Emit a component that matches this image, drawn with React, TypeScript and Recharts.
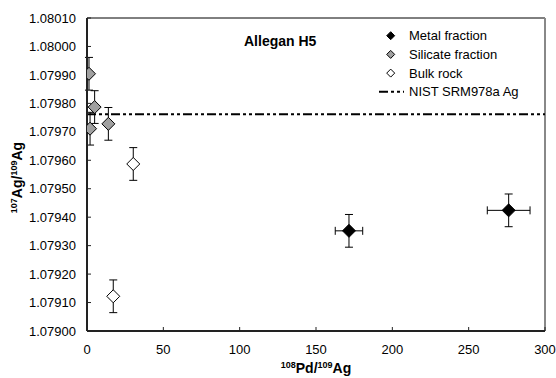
import { ScatterChart, Scatter, XAxis, YAxis, ErrorBar, ReferenceLine } from 'recharts';

const metal = [
  { x: 171.6, y: 1.079352, ex: 9, ey: 0.0000575 },
  { x: 276.2, y: 1.079424, ex: 14, ey: 0.0000575 },
];
const silicate = [
  { x: 1.3, y: 1.079904, ey: 0.0000575 },
  { x: 2.0, y: 1.079711, ey: 0.0000575 },
  { x: 5.0, y: 1.079787, ey: 0.0000575 },
  { x: 14.0, y: 1.079728, ey: 0.0000575 },
];
const bulk = [
  { x: 30.3, y: 1.079587, ey: 0.0000575 },
  { x: 17.2, y: 1.079122, ey: 0.0000575 },
];
const nistValue = 1.079762;

const xTicks = [0, 50, 100, 150, 200, 250, 300];
const yTicks = [1.079, 1.0791, 1.0792, 1.0793, 1.0794, 1.0795, 1.0796, 1.0797, 1.0798, 1.0799, 1.08, 1.0801];

const legendItems = [
  { name: 'Metal fraction', fill: '#000000', kind: 'diamond' },
  { name: 'Silicate fraction', fill: '#a0a0a0', kind: 'diamond' },
  { name: 'Bulk rock', fill: '#ffffff', kind: 'diamond' },
  { name: 'NIST SRM978a Ag', fill: 'none', kind: 'line' },
];

const FONT = '"Liberation Sans", Arial, sans-serif';
const DASH = '9 3 3 3 3 3';

function diamond(fill: string, r: number) {
  return (props: any) => {
    const { cx, cy } = props;
    if (cx == null || cy == null) return <g />;
    return (
      <polygon
        points={`${cx},${cy - r} ${cx + r},${cy} ${cx},${cy + r} ${cx - r},${cy}`}
        fill={fill}
        stroke="#000"
        strokeWidth={1}
      />
    );
  };
}

function YLabel(props: any) {
  const vb = props.viewBox || { x: 0, y: 18, width: 87, height: 313 };
  const x = vb.x + 22;
  const y = vb.y + vb.height / 2 + 3;
  return (
    <text x={x} y={y} transform={`rotate(-90, ${x}, ${y})`} textAnchor="middle" fontFamily={FONT} fontWeight="bold" fontSize={14} fill="#000">
      <tspan fontSize={9} dy={-5}>107</tspan>
      <tspan dy={5}>Ag/</tspan>
      <tspan fontSize={9} dy={-5}>109</tspan>
      <tspan dy={5}>Ag</tspan>
    </text>
  );
}

function XLabel(props: any) {
  const vb = props.viewBox || { x: 87, y: 331, width: 458, height: 47 };
  const x = vb.x + vb.width / 2;
  const y = vb.y + 42;
  return (
    <text x={x} y={y} textAnchor="middle" fontFamily={FONT} fontWeight="bold" fontSize={14} fill="#000">
      <tspan fontSize={9} dy={-5}>108</tspan>
      <tspan dy={5}>Pd/</tspan>
      <tspan fontSize={9} dy={-5}>109</tspan>
      <tspan dy={5}>Ag</tspan>
    </text>
  );
}

export default function App() {
  return (
    <div style={{ position: 'absolute', left: 0, top: 0, width: 556, height: 378, background: '#fff' }}>
      <ScatterChart width={556} height={378} margin={{ top: 18, right: 11, bottom: 0, left: 0 }}>
        <XAxis
          type="number"
          dataKey="x"
          domain={[0, 300]}
          ticks={xTicks}
          allowDataOverflow
          height={47}
          tickSize={-4}
          tickMargin={18}
          tick={{ fontFamily: FONT, fontSize: 13, fill: '#000' }}
          axisLine={{ stroke: '#222', strokeWidth: 2 }}
          tickLine={{ stroke: '#222' }}
          label={<XLabel />}
        />
        <YAxis
          type="number"
          dataKey="y"
          domain={[1.079, 1.0801]}
          ticks={yTicks}
          allowDataOverflow
          width={87}
          tickSize={-4}
          tickMargin={15}
          tickFormatter={(v: number) => v.toFixed(5)}
          tick={{ fontFamily: FONT, fontSize: 13, fill: '#000' }}
          axisLine={{ stroke: '#222', strokeWidth: 2 }}
          tickLine={{ stroke: '#222' }}
          label={<YLabel />}
        />
        <ReferenceLine y={1.0801} stroke="#000" strokeWidth={1} />
        <ReferenceLine x={300} stroke="#888" strokeWidth={2} />
        <ReferenceLine y={nistValue} stroke="#000" strokeWidth={2} strokeDasharray={DASH} />
        <Scatter data={silicate} shape={diamond('#a0a0a0', 6.5)} isAnimationActive={false}>
          <ErrorBar dataKey="ey" direction="y" width={4} stroke="#000" strokeWidth={1} />
        </Scatter>
        <Scatter data={bulk} shape={diamond('#ffffff', 6.5)} isAnimationActive={false}>
          <ErrorBar dataKey="ey" direction="y" width={4} stroke="#000" strokeWidth={1} />
        </Scatter>
        <Scatter data={metal} shape={diamond('#000000', 6.5)} isAnimationActive={false}>
          <ErrorBar dataKey="ey" direction="y" width={4} stroke="#000" strokeWidth={1} />
          <ErrorBar dataKey="ex" direction="x" width={4} stroke="#000" strokeWidth={1} />
        </Scatter>
      </ScatterChart>
      <svg width={556} height={378} style={{ position: 'absolute', left: 0, top: 0, pointerEvents: 'none' }}>
        <text x={244} y={45.5} fontFamily={FONT} fontWeight="bold" fontSize={14} fill="#000">Allegan H5</text>
        {legendItems.map((item, i) => {
          const cy = 35.7 + i * 18.7;
          return (
            <g key={item.name}>
              {item.kind === 'diamond' ? (
                <polygon
                  points={`390.7,${cy - 4} 394.7,${cy} 390.7,${cy + 4} 386.7,${cy}`}
                  fill={item.fill}
                  stroke="#000"
                  strokeWidth={1}
                />
              ) : (
                <line x1={379} x2={404} y1={cy} y2={cy} stroke="#000" strokeWidth={2} strokeDasharray={DASH} />
              )}
              <text x={409} y={cy} dy="0.36em" fontFamily={FONT} fontSize={13} fill="#000">{item.name}</text>
            </g>
          );
        })}
      </svg>
    </div>
  );
}
